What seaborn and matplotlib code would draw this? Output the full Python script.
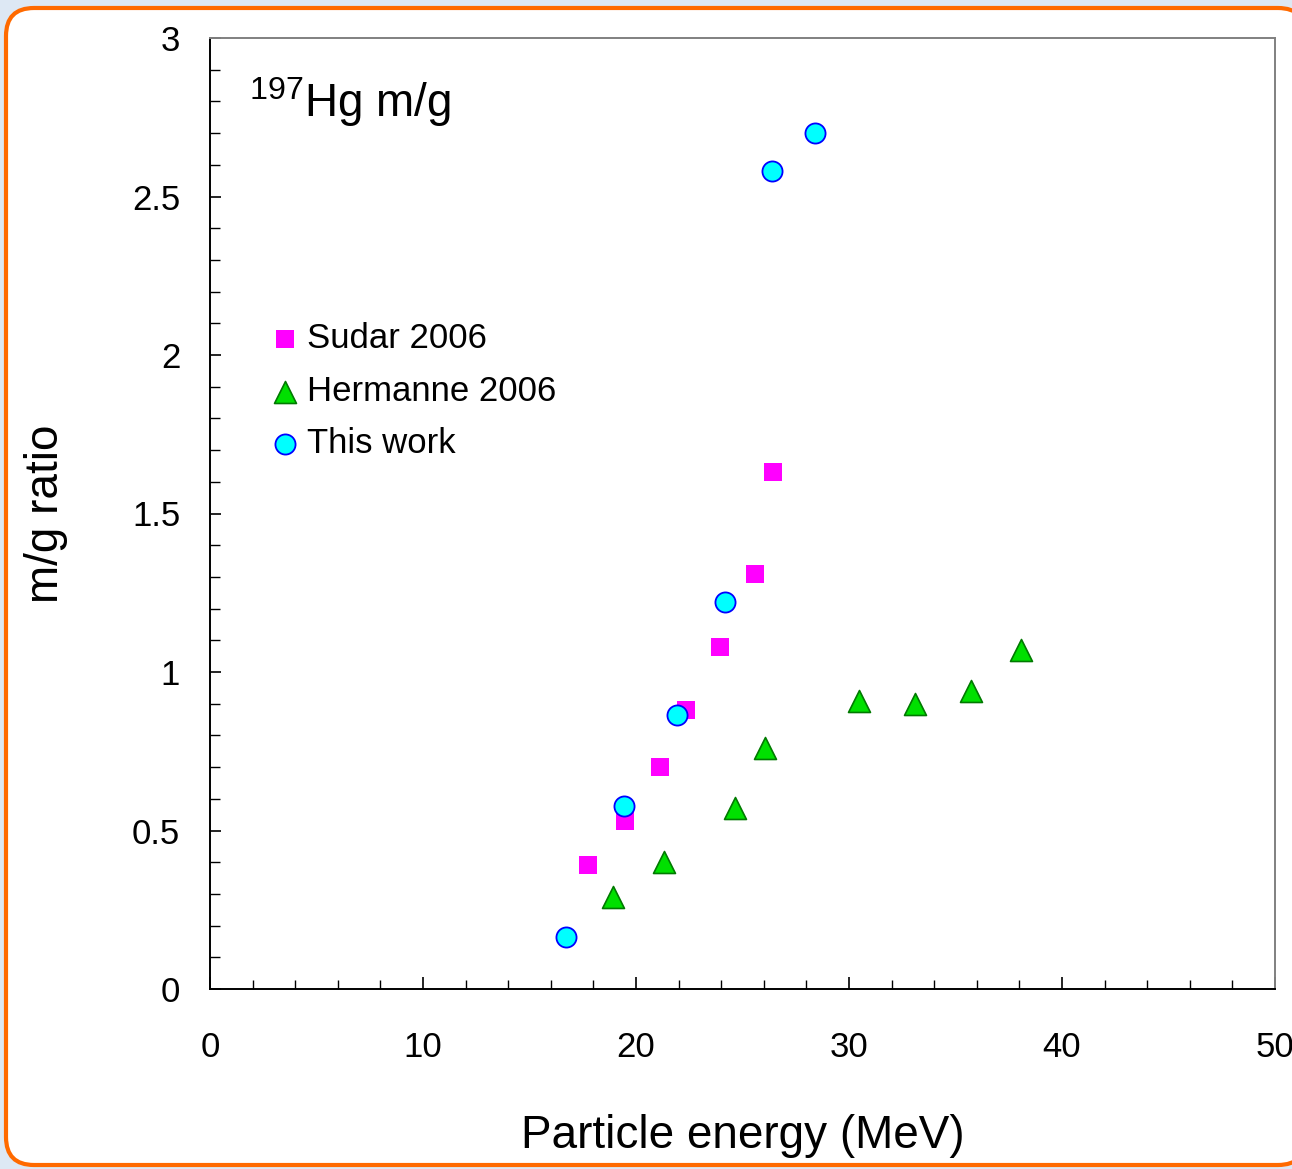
import numpy as np
import pandas as pd
import matplotlib
matplotlib.use("Agg")
import matplotlib.pyplot as plt
from matplotlib.patches import FancyBboxPatch
from matplotlib.transforms import IdentityTransform
from matplotlib.ticker import MultipleLocator
import seaborn as sns

# Isomeric ratio data for 197Hg (m/g) vs particle energy
sudar_energy = [17.75, 19.48, 21.13, 22.35, 23.94, 25.59, 26.43]
sudar_ratio = [0.39, 0.53, 0.70, 0.88, 1.08, 1.31, 1.63]

hermanne_energy = [18.92, 21.31, 24.65, 26.06, 30.47, 33.10, 35.73, 38.08]
hermanne_ratio = [0.29, 0.40, 0.57, 0.76, 0.91, 0.90, 0.94, 1.07]

thiswork_energy = [16.71, 19.44, 21.92, 24.18, 26.38, 28.40]
thiswork_ratio = [0.165, 0.577, 0.864, 1.22, 2.58, 2.70]

series_names = ["Sudar 2006", "Hermanne 2006", "This work"]

df = pd.concat([
    pd.DataFrame({"energy": sudar_energy, "ratio": sudar_ratio, "set": series_names[0]}),
    pd.DataFrame({"energy": hermanne_energy, "ratio": hermanne_ratio, "set": series_names[1]}),
    pd.DataFrame({"energy": thiswork_energy, "ratio": thiswork_ratio, "set": series_names[2]}),
], ignore_index=True)

sns.set_theme(style="white")
plt.rcParams["font.family"] = ["Liberation Sans", "DejaVu Sans"]
plt.rcParams["mathtext.fontset"] = "custom"
plt.rcParams["mathtext.rm"] = "Liberation Sans"
plt.rcParams["mathtext.it"] = "Liberation Sans:italic"

W, H = 1292, 1169
fig = plt.figure(figsize=(W / 100, H / 100), dpi=100)
fig.patch.set_facecolor("#dde8f4")

# rounded white panel with orange border, kept behind the axes
panel = FancyBboxPatch((6, 4), 1300, 1157,
                       boxstyle="round,pad=0,rounding_size=28",
                       transform=IdentityTransform(),
                       facecolor="white", edgecolor="#ff6a00", linewidth=3.0,
                       zorder=-5)
fig.patches.append(panel)

ax = fig.add_axes([210 / W, 1 - 989 / H, (1275 - 210) / W, (989 - 38) / H])
ax.set_facecolor("none")

styles = {
    "Sudar 2006": dict(marker="s", color="#ff00ff", edgecolor="none", s=165, linewidth=0),
    "Hermanne 2006": dict(marker="^", color="#00e000", edgecolor="#007a00", s=250, linewidth=1.2),
    "This work": dict(marker="o", color="#00ffff", edgecolor="#0000ff", s=210, linewidth=1.3),
}
for name in series_names:
    sub = df[df["set"] == name]
    sns.scatterplot(data=sub, x="energy", y="ratio", ax=ax, label=name,
                    zorder=3, **styles[name])

ax.set_xlim(0, 50)
ax.set_ylim(0, 3)
ax.xaxis.set_minor_locator(MultipleLocator(2))
ax.yaxis.set_minor_locator(MultipleLocator(0.1))
ax.set_xticks([0, 10, 20, 30, 40, 50])
ax.set_xticklabels(["0", "10", "20", "30", "40", "50"])
ax.set_yticks([0, 0.5, 1, 1.5, 2, 2.5, 3])
ax.set_yticklabels(["0", "0.5", "1", "1.5", "2", "2.5", "3"])

ax.tick_params(axis="both", which="both", direction="in", color="black",
               labelsize=25, labelcolor="black")
ax.tick_params(axis="x", which="major", length=9, width=1.2, pad=30, bottom=True)
ax.tick_params(axis="x", which="minor", length=6.5, width=1.0, bottom=True)
ax.tick_params(axis="y", which="major", length=8, width=1.2, pad=21.5, left=True)
ax.tick_params(axis="y", which="minor", length=7, width=1.0, left=True)

for side in ["left", "bottom"]:
    ax.spines[side].set_color("black")
    ax.spines[side].set_linewidth(1.4)
for side in ["top", "right"]:
    ax.spines[side].set_visible(True)
    ax.spines[side].set_color("#808080")
    ax.spines[side].set_linewidth(1.4)

ax.set_xlabel("Particle energy (MeV)", fontsize=33, color="black", labelpad=36)
ax.set_ylabel("m/g ratio", fontsize=33, color="black", labelpad=46)

ax.text(0.037, 0.917, r"$^{197}$Hg m/g", transform=ax.transAxes,
        fontsize=33, color="black", ha="left", va="baseline")

leg = ax.legend(loc="upper left", bbox_to_anchor=(0.057, 0.701), frameon=False,
                fontsize=25, handlelength=0.8, handletextpad=0.25,
                labelspacing=0.56, borderaxespad=0, borderpad=0,
                markerscale=1.0)
for t in leg.get_texts():
    t.set_color("black")

fig.savefig("out.png", dpi=100, facecolor=fig.get_facecolor())
